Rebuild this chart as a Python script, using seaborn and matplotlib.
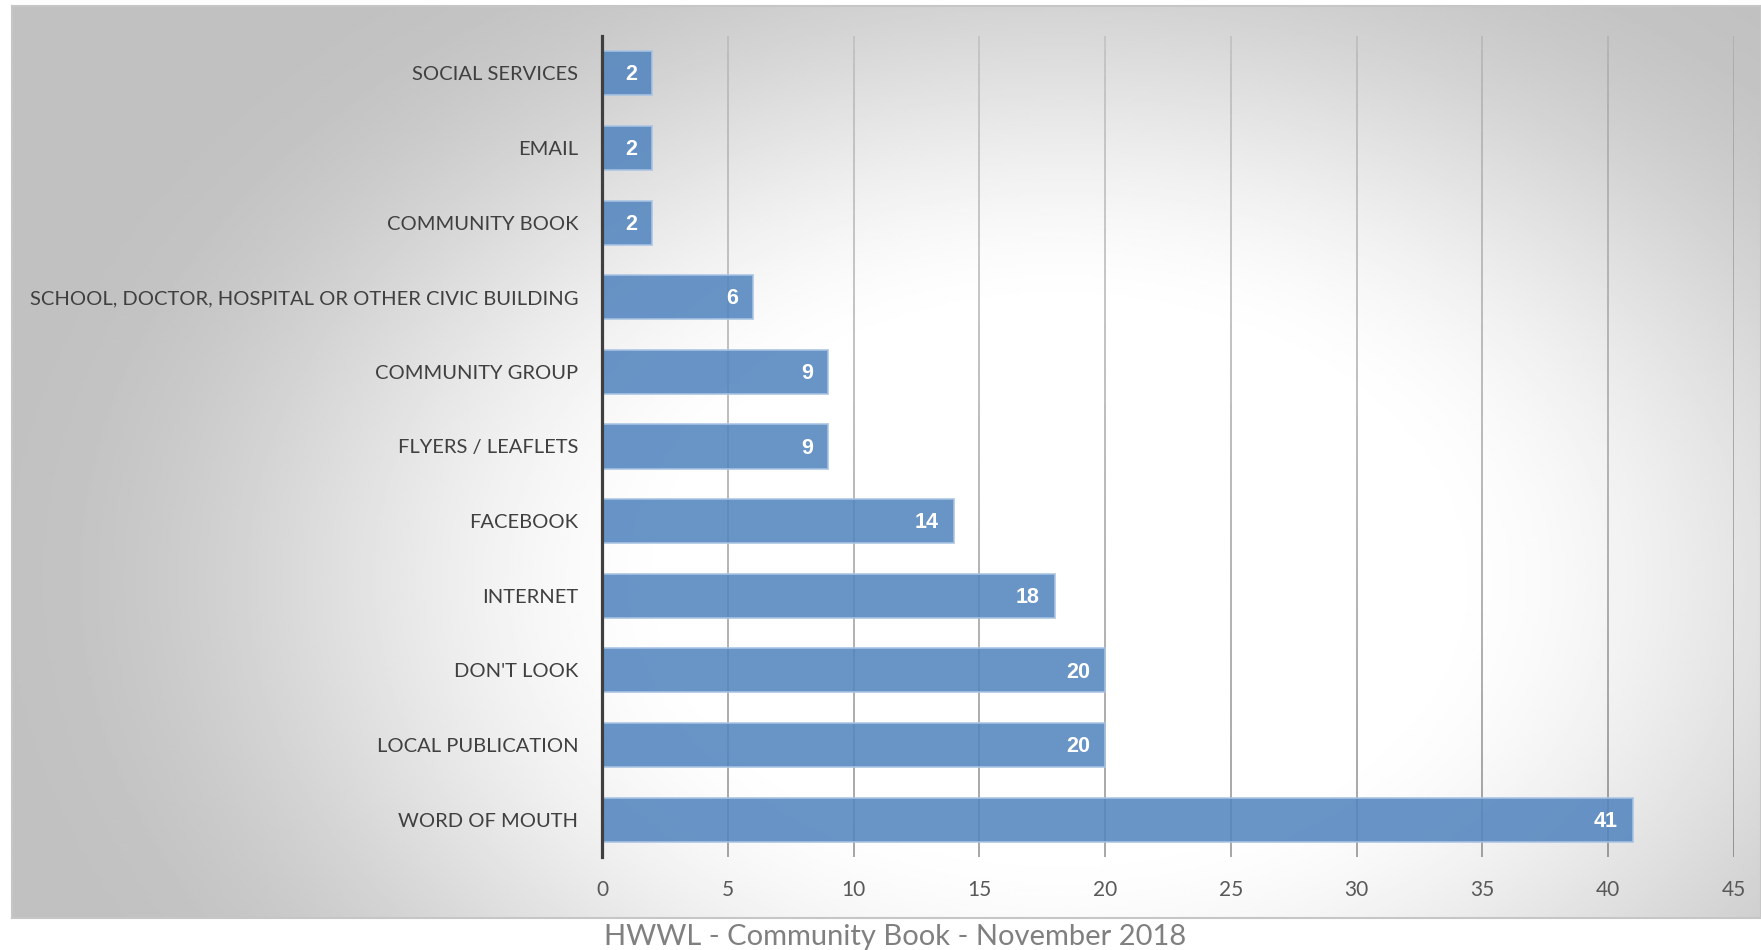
import numpy as np
import pandas as pd
import matplotlib
matplotlib.use("Agg")
import matplotlib.pyplot as plt
from matplotlib.collections import LineCollection
import seaborn as sns

# Survey: where people look for community information
categories = [
    "SOCIAL SERVICES",
    "EMAIL",
    "COMMUNITY BOOK",
    "SCHOOL, DOCTOR, HOSPITAL OR OTHER CIVIC BUILDING",
    "COMMUNITY GROUP",
    "FLYERS / LEAFLETS",
    "FACEBOOK",
    "INTERNET",
    "DON'T LOOK",
    "LOCAL PUBLICATION",
    "WORD OF MOUTH",
]
counts = [2, 2, 2, 6, 9, 9, 14, 18, 20, 20, 41]
x_ticks = [0, 5, 10, 15, 20, 25, 30, 35, 40, 45]
chart_title = "HWWL - Community Book - November 2018"

sns.set_theme(style="white")
plt.rcParams["font.family"] = ["Lato", "DejaVu Sans"]

W, H = 1761, 950
fig = plt.figure(figsize=(W / 100, H / 100), dpi=100)
fig.patch.set_facecolor("white")

# ---- chart-area panel with a soft radial grey gradient ----
px0, px1, py0, py1 = 12, 1761, 6, 918
bg = fig.add_axes([px0 / W, 1 - py1 / H, (px1 - px0) / W, (py1 - py0) / H], zorder=0)
xs = np.linspace(px0, px1, 700)
ys = np.linspace(py0, py1, 380)
X, Y = np.meshgrid(xs, ys)
r = np.sqrt(((X - 1060) / 1080) ** 2 + ((Y - 580) / 760) ** 2)
t = np.clip((r - 0.33) / 0.67, 0, 1)
shade = (255 - 62 * t * t * (3 - 2 * t)) / 255
bg.imshow(shade, cmap="gray", vmin=0, vmax=1, extent=[0, 1, 0, 1],
          aspect="auto", origin="upper", interpolation="bilinear")
bg.set_xticks([])
bg.set_yticks([])
for sp in bg.spines.values():
    sp.set_color("#c6c6c6")
    sp.set_linewidth(1.5)

# ---- bar axes ----
ax = fig.add_axes([602 / W, 1 - 857 / H, (1734 - 602) / W, (857 - 36) / H], zorder=1)
ax.patch.set_alpha(0)

df = pd.DataFrame({"source": categories, "count": counts})
sns.barplot(data=df, x="count", y="source", orient="h", color="#5385bf",
            saturation=1, width=0.59, edgecolor="#a9c3e3", linewidth=1.3,
            alpha=0.88, ax=ax, zorder=2)

ax.set_xlim(0, 45)
ax.set_ylim(len(categories) - 0.5, -0.5)
ax.set_xticks(x_ticks)
ax.set_xlabel("")
ax.set_ylabel("")
ax.grid(False)

# vertical gridlines, fading from light at the top to darker at the bottom
y_lo, y_hi = ax.get_ylim()[1], ax.get_ylim()[0]
n_seg = 60
edges = np.linspace(y_lo, y_hi, n_seg + 1)
segs, cols = [], []
for xt in ax.get_xticks()[1:]:
    for k in range(n_seg):
        segs.append([(xt, edges[k]), (xt, edges[k + 1])])
        a = 0.10 + 0.40 * np.sqrt((k + 0.5) / n_seg)
        cols.append((0.25, 0.25, 0.25, a))
ax.add_collection(LineCollection(segs, colors=cols, linewidths=1.3, zorder=1))

for name, sp in ax.spines.items():
    sp.set_visible(name == "left")
ax.spines["left"].set_color("#3f3f3f")
ax.spines["left"].set_linewidth(2.3)
ax.spines["left"].set_zorder(3)

ax.tick_params(axis="x", length=0, pad=16.5, labelsize=15, labelcolor="#595959")
ax.tick_params(axis="y", length=0, pad=17, labelsize=14.5, labelcolor="#404040")

# value labels inside the bar ends
for i, v in enumerate(counts):
    ax.annotate(f"{v}", xy=(v, i), xytext=(-11, -1.2), textcoords="offset points",
                ha="right", va="center", color="white", fontweight="bold",
                family=["Liberation Sans", "DejaVu Sans"], fontsize=15.5, zorder=4)

fig.text(895 / W, 1 - 937 / H, chart_title, ha="center", va="center",
         color="#808080", fontsize=21)

fig.savefig("out.png", dpi=100)
